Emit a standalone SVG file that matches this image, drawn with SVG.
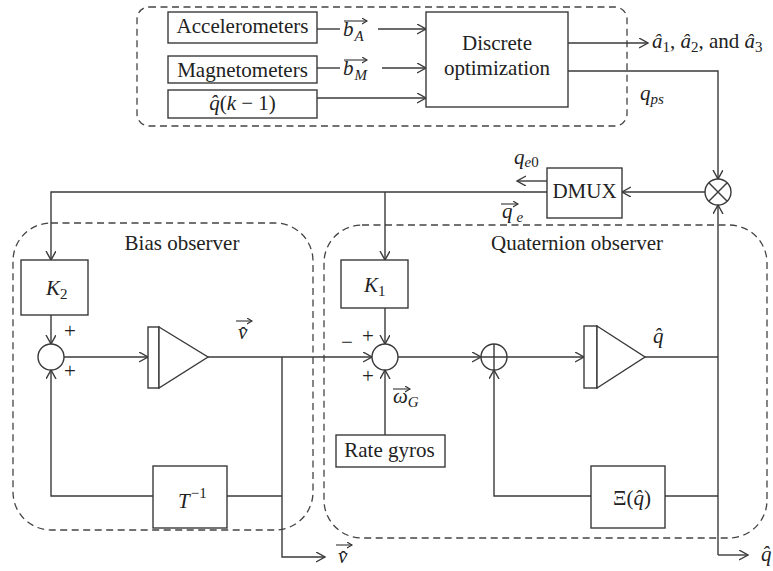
<svg xmlns="http://www.w3.org/2000/svg" width="773" height="571" viewBox="0 0 773 571" font-family="'Liberation Serif', 'Times New Roman', 'DejaVu Serif', serif">
<style>
.ln{stroke:#3a3a3a;stroke-width:1.4;fill:none}
.bx{fill:#fff;stroke:#3a3a3a;stroke-width:1.4}
.dash{fill:none;stroke:#444;stroke-width:1.3;stroke-dasharray:7 4.5}
.va{stroke:#333;stroke-width:1.1;fill:none}
text{font-family:'Liberation Serif','Times New Roman','DejaVu Serif',serif;font-size:21px;fill:#222}
.it{font-style:italic}
.sub{font-size:15px}
.c{text-anchor:middle}
</style>
<defs>
<marker id="ah" markerUnits="userSpaceOnUse" markerWidth="12" markerHeight="12" refX="9" refY="5" orient="auto"><path d="M0,0 L9,5 L0,10" fill="none" stroke="#3a3a3a" stroke-width="1.4"/></marker>
<marker id="sa" markerUnits="userSpaceOnUse" markerWidth="8" markerHeight="8" refX="5" refY="3" orient="auto"><path d="M0,0 L5,3 L0,6" fill="none" stroke="#333" stroke-width="1.1"/></marker>
</defs>
<g id="groups">
<rect class="dash" x="137" y="7" width="490" height="119" rx="12"/>
<rect class="dash" x="13" y="223" width="300" height="307" rx="38"/>
<rect class="dash" x="324" y="225" width="443" height="313" rx="38"/>
<text class="c" x="182" y="250">Bias observer</text>
<text class="c" x="577" y="250" font-size="21.5">Quaternion observer</text>
</g>
<g id="connectors">
<path class="ln" d="M317,29 H340"/>
<path class="ln" d="M378,29 H426" marker-end="url(#ah)"/>
<path class="ln" d="M317,68 H340"/>
<path class="ln" d="M382,68 H426" marker-end="url(#ah)"/>
<path class="ln" d="M317,98 H426" marker-end="url(#ah)"/>
<path class="ln" d="M568,43 H648" marker-end="url(#ah)"/>
<path class="ln" d="M568,71 H718 V179" marker-end="url(#ah)"/>
<path class="ln" d="M718,555 V205" marker-end="url(#ah)"/>
<path class="ln" d="M718,555 H748" marker-end="url(#ah)"/>
<path class="ln" d="M705,192 H622" marker-end="url(#ah)"/>
<path class="ln" d="M547,181 H517" marker-end="url(#ah)"/>
<path class="ln" d="M547,192 H51 V260" marker-end="url(#ah)"/>
<path class="ln" d="M385,192 V260" marker-end="url(#ah)"/>
<path class="ln" d="M51,315 V344" marker-end="url(#ah)"/>
<path class="ln" d="M385,308 V344" marker-end="url(#ah)"/>
<path class="ln" d="M64,357 H148" marker-end="url(#ah)"/>
<path class="ln" d="M208,357 H372" marker-end="url(#ah)"/>
<path class="ln" d="M282,357 V557 H325" marker-end="url(#ah)"/>
<path class="ln" d="M282,496 H227"/>
<path class="ln" d="M153,496 H51 V370" marker-end="url(#ah)"/>
<path class="ln" d="M385,435 V370" marker-end="url(#ah)"/>
<path class="ln" d="M398,357 H481" marker-end="url(#ah)"/>
<path class="ln" d="M507,357 H584" marker-end="url(#ah)"/>
<path class="ln" d="M645,357 H718"/>
<path class="ln" d="M718,496 H665"/>
<path class="ln" d="M591,496 H494 V370" marker-end="url(#ah)"/>
</g>
<g id="labels">
<path class="va" d="M344,21 H367" marker-end="url(#sa)"/>
<text class="it" x="343" y="36">b<tspan class="sub" dx="1" dy="5">A</tspan></text>
<path class="va" d="M344,60 H367" marker-end="url(#sa)"/>
<text class="it" x="343" y="75">b<tspan class="sub" dx="1" dy="5">M</tspan></text>
<text x="652" y="48"><tspan class="it">â</tspan><tspan class="sub" dy="4">1</tspan><tspan dy="-4">, </tspan><tspan class="it">â</tspan><tspan class="sub" dy="4">2</tspan><tspan dy="-4">, and </tspan><tspan class="it">â</tspan><tspan class="sub" dy="4">3</tspan></text>
<text class="it" x="640" y="100">q<tspan class="sub" dy="4">ps</tspan></text>
<text class="it" x="514" y="164">q<tspan class="sub" dy="3">e</tspan><tspan class="sub" font-style="normal">0</tspan></text>
<path class="va" d="M501,204 H518" marker-end="url(#sa)"/>
<text class="it" x="502" y="218">q<tspan class="sub" dx="4" dy="4">e</tspan></text>
<text x="70" y="338" class="c" font-size="17">+</text>
<text x="70" y="378" class="c" font-size="17">+</text>
<path class="va" d="M236,321 H252" marker-end="url(#sa)"/>
<text class="it" x="238" y="339" font-size="18">ν<tspan font-style="normal" dx="-7.5" dy="3">ˆ</tspan></text>
<path class="va" d="M336,545 H352" marker-end="url(#sa)"/>
<text class="it" x="338" y="563" font-size="18">ν<tspan font-style="normal" dx="-7.5" dy="3">ˆ</tspan></text>
<text x="347" y="349" class="c" font-size="17">−</text>
<text x="368" y="343" class="c" font-size="17">+</text>
<text x="368" y="383" class="c" font-size="17">+</text>
<path class="va" d="M393,389 H410" marker-end="url(#sa)"/>
<text class="it" x="393" y="403">ω<tspan class="sub" dy="4">G</tspan></text>
<text class="it" x="653" y="343">q̂</text>
<text class="it" x="761" y="561">q̂</text>
</g>
<g id="acc"><rect class="bx" x="168" y="12" width="149" height="31"/><text class="c" x="242.5" y="33" font-size="20.5">Accelerometers</text></g>
<g id="mag"><rect class="bx" x="168" y="56" width="149" height="27"/><text class="c" x="242.5" y="77">Magnetometers</text></g>
<g id="qprev"><rect class="bx" x="168" y="90" width="149" height="28"/><text class="c" x="242.5" y="110"><tspan class="it">q̂</tspan>(<tspan class="it">k</tspan> − 1)</text></g>
<g id="opt"><rect class="bx" x="426" y="12" width="142" height="95"/><text class="c" x="497" y="50">Discrete</text><text class="c" x="497" y="75">optimization</text></g>
<g id="dmux"><rect class="bx" x="547" y="168" width="75" height="50"/><text class="c" x="584.5" y="198">DMUX</text></g>
<g id="mult"><circle class="bx" cx="718" cy="192" r="13"/><path class="ln" d="M708.8,182.8 L727.2,201.2 M727.2,182.8 L708.8,201.2"/></g>
<g id="K2"><rect class="bx" x="21" y="260" width="67" height="55"/><text class="it" x="46" y="295">K<tspan class="sub" font-style="normal" dy="4">2</tspan></text></g>
<g id="K1"><rect class="bx" x="341" y="260" width="67" height="48"/><text class="it" x="364" y="292">K<tspan class="sub" font-style="normal" dy="4">1</tspan></text></g>
<g id="sum1"><circle class="bx" cx="51" cy="357" r="13"/></g>
<g id="int1"><rect class="bx" x="148" y="327" width="11" height="61"/><polygon class="bx" points="159,327 208,357 159,388"/></g>
<g id="T"><rect class="bx" x="153" y="466" width="74" height="62"/><text class="it" x="178" y="508" font-size="22">T<tspan class="sub" font-style="normal" dx="1" dy="-10">−1</tspan></text></g>
<g id="sum2"><circle class="bx" cx="385" cy="357" r="13"/></g>
<g id="rate"><rect class="bx" x="336" y="435" width="109" height="32"/><text class="c" x="389.5" y="457" font-size="20.5">Rate gyros</text></g>
<g id="cplus"><circle class="bx" cx="494" cy="357" r="13"/><path class="ln" d="M481,357 H507 M494,344 V370"/></g>
<g id="int2"><rect class="bx" x="584" y="326" width="13" height="62"/><polygon class="bx" points="597,326 645,357 597,388"/></g>
<g id="Xi"><rect class="bx" x="591" y="466" width="74" height="62"/><text class="c" x="632" y="505" font-size="18">Ξ(<tspan class="it">q̂</tspan>)</text></g>
</svg>
